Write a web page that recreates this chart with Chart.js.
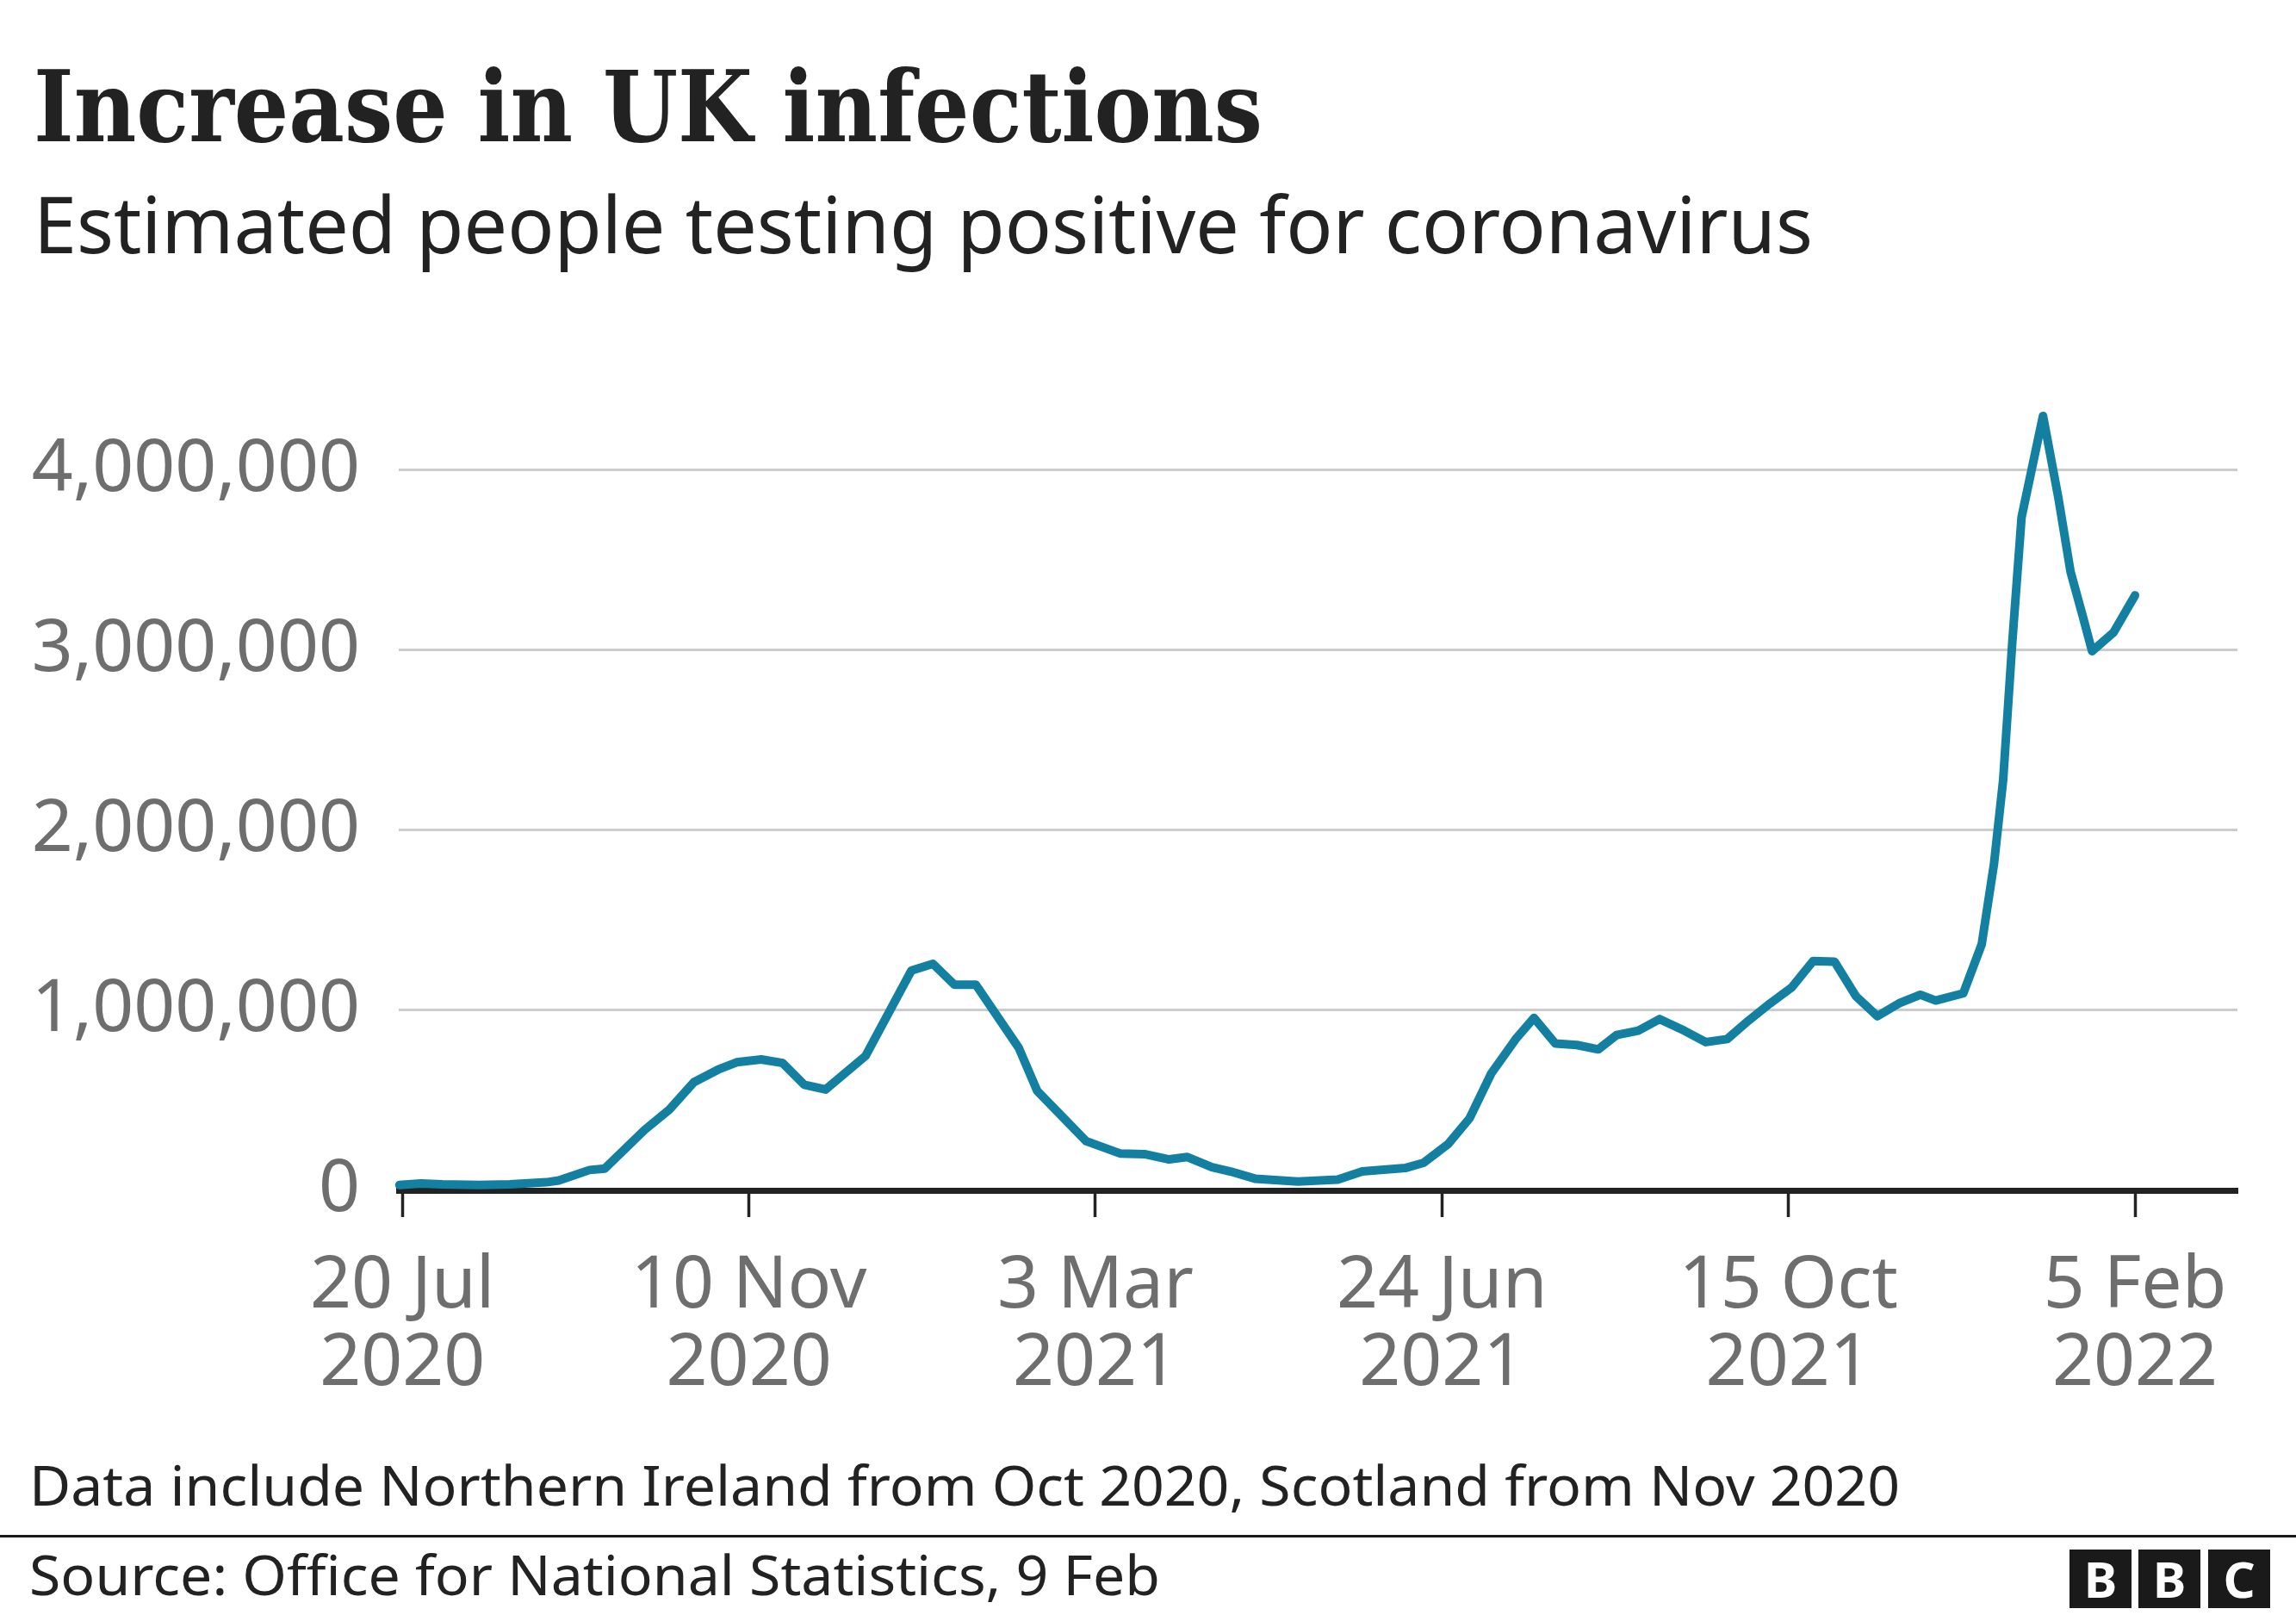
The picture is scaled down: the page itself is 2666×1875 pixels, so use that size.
<!DOCTYPE html>
<html>
<head>
<meta charset="utf-8">
<script src="https://cdn.jsdelivr.net/npm/chart.js@4"></script>
<style>
  body { margin: 0; background: #fff; }
  #page { position: relative; width: 2666px; height: 1875px; overflow: hidden; background: #fff; }
  .txt { position: absolute; white-space: nowrap; line-height: 1; color: #222; transform-origin: left top; }
  #title { font-family: "DejaVu Serif", serif; font-weight: bold; font-size: 114px; left: 39px; top: 67px; }
  #subtitle { font-family: "Noto Sans", sans-serif; font-size: 92px; left: 39px; top: 213px; }
  #note { font-family: "Noto Sans", sans-serif; font-size: 63px; left: 34px; top: 1692px; }
  #source { font-family: "Noto Sans", sans-serif; font-size: 64px; left: 34px; top: 1796px; }
  #rule { position: absolute; left: 0; top: 1782px; width: 2666px; height: 3px; background: #1a1a1a; }
  .blk { position: absolute; top: 1799px; width: 72px; height: 68px; background: #1a1a1a; color: #fff;
         font-family: "Noto Sans", sans-serif; font-weight: bold; font-size: 58px; line-height: 68px; text-align: center; }
  #chart { position: absolute; left: 0; top: 400px; }
</style>
</head>
<body>
<div id="page">
  <div class="txt" id="title">Increase in UK infections</div>
  <div class="txt" id="subtitle">Estimated people testing positive for coronavirus</div>
  <canvas id="chart" width="2666" height="1260"></canvas>
  <div class="txt" id="note">Data include Northern Ireland from Oct 2020, Scotland from Nov 2020</div>
  <div id="rule"></div>
  <div class="txt" id="source">Source: Office for National Statistics, 9 Feb</div>
  <div class="blk" style="left:2403px">B</div>
  <div class="blk" style="left:2483px">B</div>
  <div class="blk" style="left:2564px">C</div>
</div>
<script>
// days since 20 Jul 2020
const days = [-1, 6, 13, 25, 35, 47, 51, 61, 66, 79, 87, 95, 103, 109, 117, 124, 131, 138, 151, 166,
  173, 180, 187, 201, 207, 223, 234, 242, 250, 256, 264, 270, 278, 292, 305, 313, 327, 333, 341, 348,
  355, 363, 369, 376, 383, 390, 396, 403, 410, 418, 425, 432, 439, 446, 453, 460, 467, 474, 481, 488,
  495, 500, 509, 515, 519, 522, 525, 528, 535, 540, 544, 548, 551, 558, 565];

const positives = [30000, 38000, 33000, 30000, 33000, 45000, 55000, 113000, 121000, 336000,
  448000, 600000, 671000, 711000, 727000, 707000, 587000, 560000, 746000, 1221000,
  1258000, 1142000, 1142000, 791000, 552000, 273000, 205000, 201000, 172000, 185000,
  129000, 105000, 65000, 49000, 60000, 105000, 124000, 153000, 257000, 400000,
  647000, 839000, 958000, 815000, 807000, 783000, 863000, 887000, 951000, 887000,
  823000, 840000, 943000, 1038000, 1126000, 1273000, 1270000, 1078000, 967000, 1038000,
  1086000, 1054000, 1094000, 1366000, 1811000, 2279000, 3049000, 3737000, 4300000, 3846000,
  3433000, 3186000, 2994000, 3098000, 3304000];

const xTickDays = [0, 113, 226, 339, 452, 565];
const xTickLabels = [["20 Jul", "2020"], ["10 Nov", "2020"], ["3 Mar", "2021"],
  ["24 Jun", "2021"], ["15 Oct", "2021"], ["5 Feb", "2022"]];
const yTicks = [0, 1000000, 2000000, 3000000, 4000000];
const yTickLabels = ["0", "1,000,000", "2,000,000", "3,000,000", "4,000,000"];

// squeeze the text blocks to the widths in the picture
function fitWidth(id, target) {
    const el = document.getElementById(id);
    const w = el.getBoundingClientRect().width;
    el.style.transform = "scaleX(" + (target / w) + ")";
}
fitWidth("title", 1427);
fitWidth("subtitle", 2066);
fitWidth("note", 2172);
fitWidth("source", 1313);

const gray = "#6e6e6e";
const tickFont = { family: "Noto Sans", size: 84, lineHeight: 1.07 };

new Chart(document.getElementById("chart").getContext("2d"), {
    type: "line",
    data: {
        datasets: [{
            data: days.map((d, i) => ({ x: d, y: positives[i] })),
            borderColor: "#1380a1",
            borderWidth: 10,
            borderJoinStyle: "round",
            borderCapStyle: "round",
            pointRadius: 0,
            tension: 0,
            clip: 12
        }]
    },
    options: {
        responsive: false,
        animation: false,
        devicePixelRatio: 1,
        layout: { padding: { left: 0, right: 68, top: 62, bottom: 0 } },
        plugins: { legend: { display: false }, tooltip: { enabled: false } },
        scales: {
            x: {
                type: "linear",
                min: -1.2,
                max: 598.4,
                afterBuildTicks: s => { s.ticks = xTickDays.map(v => ({ value: v })); },
                afterFit: s => { s.height = 278; },
                ticks: {
                    callback: (v, i) => xTickLabels[i],
                    font: tickFont,
                    color: gray,
                    padding: 36,
                    maxRotation: 0,
                    autoSkip: false
                },
                grid: { drawOnChartArea: false, drawTicks: true, tickLength: 31, tickWidth: 3.5, tickColor: "#222" },
                border: { display: true, color: "#222", width: 7 }
            },
            y: {
                min: 0,
                max: 4400000,
                afterBuildTicks: s => { s.ticks = yTicks.map(v => ({ value: v })); },
                afterFit: s => { s.width = 463; s.paddingTop = 0; s.paddingBottom = 0; },
                ticks: {
                    callback: (v, i) => yTickLabels[i],
                    font: tickFont,
                    color: gray,
                    padding: 45
                },
                grid: {
                    color: c => (c.tick && c.tick.value === 0) ? "rgba(0,0,0,0)" : "#cccccc",
                    lineWidth: 3,
                    drawTicks: false
                },
                border: { display: false }
            }
        }
    }
});
</script>
</body>
</html>
